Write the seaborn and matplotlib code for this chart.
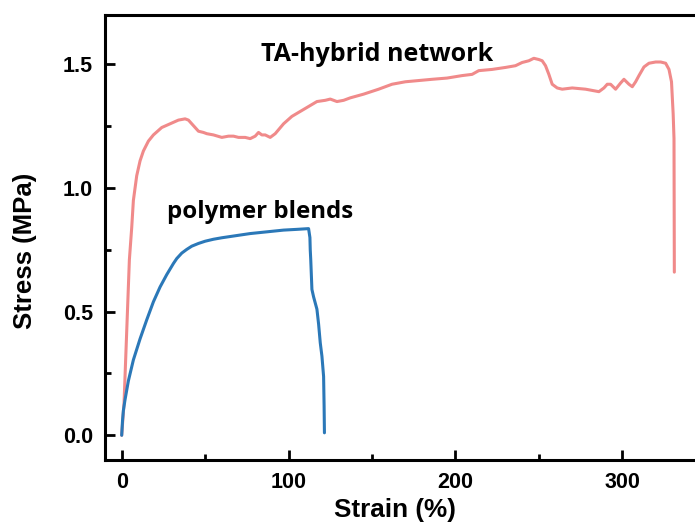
import matplotlib
matplotlib.use("Agg")
import matplotlib.pyplot as plt
import seaborn as sns
import pandas as pd
from matplotlib.ticker import MultipleLocator

# Tensile test curves: strain (%) vs. stress (MPa)
hybrid_strain = [0, 1.4, 3, 4.6, 6, 7, 9, 11, 13, 16, 19, 24, 29, 34, 38, 40, 42, 44, 46, 49,
                 51, 55, 60, 64, 67, 70, 74, 77, 80, 82, 84, 86, 89, 92, 97, 102, 107,
                 112, 117, 122, 125, 129, 133, 137, 145, 154, 162, 170, 178, 186, 195,
                 204, 210, 214, 222, 230, 236, 240, 244, 247, 250, 252, 254, 256, 258,
                 261, 264, 270, 278, 282, 286, 289, 291, 293, 296, 299, 301, 304, 306,
                 308, 310, 313, 316, 320, 323, 326, 328, 329.5, 330.5, 331, 331.2]
hybrid_stress = [0.0, 0.13, 0.42, 0.71, 0.84, 0.95, 1.05, 1.11, 1.15, 1.19, 1.215, 1.245,
                 1.26, 1.275, 1.28, 1.275, 1.26, 1.245, 1.23, 1.225, 1.22, 1.215, 1.205,
                 1.21, 1.21, 1.205, 1.205, 1.20, 1.21, 1.225, 1.215, 1.215, 1.205, 1.22,
                 1.26, 1.29, 1.31, 1.33, 1.35, 1.355, 1.36, 1.35, 1.355, 1.365, 1.38,
                 1.40, 1.42, 1.43, 1.435, 1.44, 1.445, 1.455, 1.46, 1.475, 1.48, 1.488,
                 1.495, 1.508, 1.515, 1.525, 1.52, 1.515, 1.495, 1.46, 1.42, 1.405, 1.40,
                 1.405, 1.40, 1.395, 1.39, 1.405, 1.42, 1.42, 1.40, 1.425, 1.44, 1.42,
                 1.41, 1.43, 1.455, 1.49, 1.505, 1.51, 1.51, 1.505, 1.48, 1.43, 1.30,
                 1.20, 0.66]

blend_strain = [0, 0.5, 1, 2, 4, 7, 11, 15, 19, 23, 27, 31, 33, 36, 39, 42, 46, 50, 55, 60,
                65, 71, 77, 87, 97, 105, 112, 112.8, 113, 113.3, 114, 115, 117, 118, 119,
                120, 121, 121.3, 121.5]
blend_stress = [0.0, 0.06, 0.10, 0.144, 0.22, 0.305, 0.39, 0.467, 0.54, 0.60, 0.65, 0.695,
                0.715, 0.737, 0.752, 0.765, 0.776, 0.785, 0.793, 0.799, 0.804, 0.81, 0.816,
                0.823, 0.83, 0.833, 0.836, 0.80, 0.75, 0.71, 0.59, 0.56, 0.51, 0.45,
                0.374, 0.32, 0.238, 0.12, 0.01]

series_names = ["TA-hybrid network", "polymer blends"]
series_colors = ["#F08A8A", "#2B78B8"]
x_ticks = [0, 100, 200, 300]
y_ticks = [0.0, 0.5, 1.0, 1.5]

df = pd.concat([
    pd.DataFrame({"strain": hybrid_strain, "stress": hybrid_stress, "sample": series_names[0]}),
    pd.DataFrame({"strain": blend_strain, "stress": blend_stress, "sample": series_names[1]}),
], ignore_index=True)

sns.set_style("ticks")
plt.rcParams.update({
    "font.family": ["Liberation Sans", "DejaVu Sans"],
    "text.color": "black",
    "axes.labelcolor": "black",
    "xtick.color": "black",
    "ytick.color": "black",
    "xtick.direction": "in",
    "ytick.direction": "in",
})

fig = plt.figure(figsize=(6.95, 5.31), dpi=100)
ax = fig.add_axes([0.1511, 0.1337, 0.8643, 0.838])

sns.lineplot(data=df, x="strain", y="stress", hue="sample", palette=series_colors,
             hue_order=series_names, sort=False, estimator=None, linewidth=2.2,
             legend=False, ax=ax)

ax.set_xlim(-10, 350)
ax.set_ylim(-0.1, 1.7)
ax.set_xticks(x_ticks)
ax.set_yticks(y_ticks)
ax.set_xticklabels([f"{t:d}" for t in x_ticks])
ax.set_yticklabels([f"{t:.1f}" for t in y_ticks])
ax.xaxis.set_minor_locator(MultipleLocator(50))
ax.yaxis.set_minor_locator(MultipleLocator(0.25))

for side in ["left", "bottom", "top", "right"]:
    ax.spines[side].set_visible(True)
    ax.spines[side].set_linewidth(2.2)
    ax.spines[side].set_color("black")

ax.tick_params(which="major", direction="in", length=7, width=2, pad=8.5,
               labelsize=15.5, colors="black", top=False, right=False)
ax.tick_params(which="minor", direction="in", length=4, width=2, colors="black",
               top=False, right=False)
for lab in ax.get_xticklabels() + ax.get_yticklabels():
    lab.set_fontweight("bold")

ax.set_xlabel("Strain (%)", fontsize=18.8, fontweight="bold", color="black")
ax.set_ylabel("Stress (MPa)", fontsize=18.5, fontweight="bold", color="black")
ax.xaxis.set_label_coords(0.482, -0.085)
ax.yaxis.set_label_coords(-0.113, 0.47)

label_font = ["Open Sans", "DejaVu Sans"]
ax.text(153, 1.515, series_names[0], ha="center", va="baseline", fontsize=18,
        fontweight="bold", family=label_font, color="black")
ax.text(83, 0.877, series_names[1], ha="center", va="baseline", fontsize=17.3,
        fontweight="bold", family=label_font, color="black")

fig.savefig("out.png", dpi=100)
